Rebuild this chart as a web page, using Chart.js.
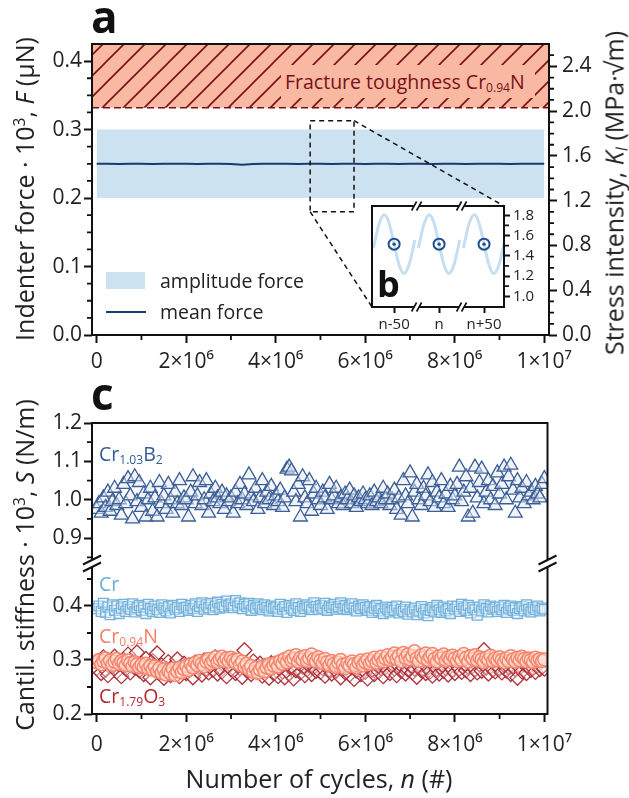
<!DOCTYPE html>
<html><head><meta charset="utf-8">
<script src="https://cdn.jsdelivr.net/npm/chart.js@4.4.1/dist/chart.umd.min.js"></script>
<style>
html,body{margin:0;padding:0;background:#fff;}
body{width:629px;height:798px;overflow:hidden;position:relative;font-family:'Open Sans','DejaVu Sans',sans-serif;}
canvas{position:absolute;left:0;top:0;}
.t{position:absolute;white-space:nowrap;line-height:1;color:#222;}
.c{transform:translate(-50%,-50%);}
.r{transform:translate(-50%,-50%) rotate(-90deg);}
sub{font-size:0.62em;vertical-align:-0.28em;line-height:0;}
sup{font-size:0.62em;vertical-align:0.55em;line-height:0;}
</style></head>
<body>
<canvas id="cA" width="629" height="798"></canvas>
<canvas id="cC1" width="629" height="798"></canvas>
<canvas id="cC2" width="629" height="798"></canvas>
<canvas id="cB" width="629" height="798"></canvas>

<div class="t" style="left:91px;top:-6px;font-size:44px;font-weight:700;color:#111">a</div>
<div class="t" style="left:91px;top:371px;font-size:44px;font-weight:700;color:#111">c</div>
<div class="t" style="left:377px;top:266px;font-size:36px;font-weight:700;color:#111">b</div>

<div style="position:absolute;left:281px;top:65px;width:254px;height:33px;background:#F8B8A2"></div>
<div class="t" style="left:285px;top:72px;font-size:19.5px;color:#7A1015">Fracture toughness Cr<sub>0.94</sub>N</div>

<div style="position:absolute;left:106px;top:272px;width:39px;height:17px;background:#CDE2F0"></div>
<div class="t" style="left:160px;top:271px;font-size:19.5px">amplitude force</div>
<div style="position:absolute;left:106px;top:311px;width:40px;height:2px;background:#1B3A6E"></div>
<div class="t" style="left:160px;top:302px;font-size:19.5px">mean force</div>

<div class="t r" style="left:24px;top:189px;font-size:25px">Indenter force · 10<sup>3</sup>, <i>F</i> (μN)</div>
<div class="t r" style="left:614px;top:193px;font-size:25px">Stress intensity, <i>K</i><sub><i>I</i></sub> (MPa·√m)</div>
<div class="t r" style="left:24px;top:565px;font-size:25px">Cantil. stiffness · 10<sup>3</sup>, <i>S</i> (N/m)</div>
<div class="t c" style="left:319px;top:778px;font-size:25px">Number of cycles, <i>n</i> (#)</div>

<div class="t" style="left:99px;top:444px;font-size:19.5px;color:#335C96">Cr<sub>1.03</sub>B<sub>2</sub></div>
<div class="t" style="left:99px;top:574px;font-size:19.5px;color:#6AAED6">Cr</div>
<div class="t" style="left:99px;top:626px;font-size:19.5px;color:#F47F67">Cr<sub>0.94</sub>N</div>
<div class="t" style="left:99px;top:686px;font-size:19.5px;color:#B5282F">Cr<sub>1.79</sub>O<sub>3</sub></div>

<script>
// ---------- data (cycles in units of 10^6) ----------
const nCycles = [
0,0.05,0.1,0.15,0.2,0.25,0.3,0.35,0.4,0.45,0.5,0.55,0.6,0.65,0.7,0.75,0.8,0.85,0.9,0.95,
1,1.05,1.1,1.15,1.2,1.25,1.3,1.35,1.4,1.45,1.5,1.55,1.6,1.65,1.7,1.75,1.8,1.85,1.9,1.95,
2,2.05,2.1,2.15,2.2,2.25,2.3,2.35,2.4,2.45,2.5,2.55,2.6,2.65,2.7,2.75,2.8,2.85,2.9,2.95,
3,3.05,3.1,3.15,3.2,3.25,3.3,3.35,3.4,3.45,3.5,3.55,3.6,3.65,3.7,3.75,3.8,3.85,3.9,3.95,
4,4.05,4.1,4.15,4.2,4.25,4.3,4.35,4.4,4.45,4.5,4.55,4.6,4.65,4.7,4.75,4.8,4.85,4.9,4.95,
5,5.05,5.1,5.15,5.2,5.25,5.3,5.35,5.4,5.45,5.5,5.55,5.6,5.65,5.7,5.75,5.8,5.85,5.9,5.95,
6,6.05,6.1,6.15,6.2,6.25,6.3,6.35,6.4,6.45,6.5,6.55,6.6,6.65,6.7,6.75,6.8,6.85,6.9,6.95,
7,7.05,7.1,7.15,7.2,7.25,7.3,7.35,7.4,7.45,7.5,7.55,7.6,7.65,7.7,7.75,7.8,7.85,7.9,7.95,
8,8.05,8.1,8.15,8.2,8.25,8.3,8.35,8.4,8.45,8.5,8.55,8.6,8.65,8.7,8.75,8.8,8.85,8.9,8.95,
9,9.05,9.1,9.15,9.2,9.25,9.3,9.35,9.4,9.45,9.5,9.55,9.6,9.65,9.7,9.75,9.8,9.85,9.9,9.95,
10];

const stiffCrB2 = [
0.975,0.99,0.965,1.005,0.98,1.02,0.97,0.995,1.03,0.985,1.0,0.96,1.04,0.99,1.055,1.01,0.95,1.06,0.995,1.045,
0.98,1.015,0.955,1.0,1.03,0.97,1.005,0.955,1.045,0.99,1.01,0.975,1.04,1.0,0.965,1.02,0.99,1.05,0.985,1.005,
1.0,0.955,1.02,1.06,0.99,1.01,1.045,0.985,1.0,1.05,0.965,1.015,0.995,1.03,1.005,0.99,1.02,0.975,1.01,0.995,
1.005,0.965,1.02,0.99,1.04,1.0,1.015,0.985,1.065,1.01,0.995,1.03,0.975,1.005,1.05,0.99,1.02,1.0,1.035,0.985,
1.01,0.995,1.025,0.98,1.005,1.08,1.085,1.075,1.02,0.995,1.04,0.955,1.06,1.005,0.99,1.05,0.97,1.015,1.03,1.0,
0.985,1.02,1.005,0.975,1.04,1.0,1.01,1.03,0.99,1.005,0.985,1.015,1.0,1.025,0.99,1.01,0.98,1.005,0.995,1.015,
1.0,0.99,1.01,0.985,1.02,0.995,1.005,0.99,1.03,1.0,1.015,0.985,1.0,1.025,0.975,1.005,0.96,1.05,1.01,0.99,
1.07,0.955,1.02,1.04,1.0,0.985,1.03,1.01,1.065,0.995,1.045,0.98,1.02,1.005,1.05,0.99,1.015,0.98,1.035,1.0,
1.01,1.04,1.085,0.995,1.02,1.06,0.955,1.03,0.965,1.085,1.005,1.045,1.08,0.99,1.02,1.05,1.0,1.035,0.985,1.07,
1.015,1.04,1.085,1.0,1.06,1.09,1.025,0.965,1.05,1.005,1.03,0.99,1.045,1.01,1.02,1.0,1.035,1.015,1.005,1.04,
1.055];

const stiffCr = [
0.395,0.4,0.39,0.405,0.388,0.398,0.384,0.402,0.392,0.4,0.386,0.396,0.403,0.39,0.399,0.394,0.404,0.389,0.397,0.401,
0.392,0.398,0.386,0.403,0.395,0.39,0.4,0.393,0.388,0.402,0.396,0.391,0.399,0.387,0.401,0.394,0.397,0.39,0.403,0.396,
0.398,0.392,0.401,0.395,0.404,0.39,0.399,0.406,0.394,0.402,0.397,0.405,0.393,0.4,0.407,0.396,0.403,0.398,0.409,0.401,
0.404,0.397,0.41,0.4,0.406,0.395,0.403,0.399,0.405,0.392,0.401,0.396,0.404,0.398,0.393,0.402,0.397,0.391,0.4,0.395,
0.398,0.39,0.403,0.394,0.399,0.388,0.401,0.396,0.392,0.404,0.397,0.39,0.4,0.395,0.402,0.398,0.393,0.406,0.399,0.394,
0.401,0.396,0.405,0.392,0.4,0.397,0.403,0.394,0.399,0.406,0.395,0.401,0.393,0.398,0.404,0.396,0.391,0.4,0.395,0.402,
0.397,0.392,0.399,0.388,0.396,0.401,0.391,0.395,0.386,0.398,0.393,0.389,0.397,0.392,0.4,0.387,0.394,0.39,0.398,0.385,
0.393,0.389,0.396,0.384,0.391,0.399,0.387,0.394,0.382,0.392,0.397,0.389,0.401,0.393,0.388,0.398,0.391,0.395,0.386,0.4,
0.394,0.399,0.39,0.403,0.396,0.392,0.401,0.387,0.397,0.393,0.383,0.398,0.391,0.402,0.395,0.389,0.4,0.394,0.397,0.39,
0.398,0.393,0.401,0.388,0.396,0.4,0.392,0.397,0.386,0.395,0.399,0.391,0.402,0.394,0.389,0.397,0.393,0.4,0.391,0.396,
0.394];

const stiffCrN = [
0.296,0.3,0.292,0.298,0.303,0.294,0.299,0.291,0.297,0.302,0.293,0.298,0.295,0.29,0.299,0.294,0.288,0.296,0.292,0.286,
0.291,0.287,0.293,0.284,0.289,0.282,0.288,0.279,0.285,0.276,0.283,0.273,0.28,0.275,0.284,0.272,0.279,0.286,0.277,0.283,
0.289,0.281,0.292,0.286,0.295,0.29,0.298,0.293,0.288,0.297,0.302,0.294,0.299,0.305,0.296,0.301,0.306,0.298,0.303,0.297,
0.304,0.299,0.295,0.301,0.291,0.297,0.287,0.293,0.283,0.289,0.278,0.285,0.276,0.282,0.288,0.279,0.286,0.292,0.284,0.29,
0.295,0.288,0.298,0.293,0.302,0.296,0.306,0.299,0.303,0.309,0.297,0.304,0.3,0.307,0.298,0.303,0.31,0.301,0.297,0.305,
0.299,0.294,0.302,0.296,0.29,0.298,0.293,0.287,0.295,0.3,0.291,0.285,0.294,0.289,0.297,0.292,0.286,0.295,0.299,0.29,
0.296,0.301,0.293,0.298,0.304,0.295,0.3,0.306,0.297,0.303,0.309,0.3,0.305,0.312,0.302,0.308,0.298,0.313,0.304,0.31,
0.301,0.307,0.316,0.303,0.298,0.309,0.304,0.312,0.3,0.306,0.311,0.302,0.297,0.307,0.303,0.31,0.299,0.305,0.301,0.308,
0.303,0.298,0.306,0.3,0.311,0.304,0.297,0.307,0.302,0.309,0.299,0.305,0.301,0.296,0.304,0.3,0.308,0.298,0.303,0.299,
0.305,0.3,0.296,0.303,0.298,0.307,0.301,0.297,0.304,0.299,0.306,0.302,0.297,0.303,0.3,0.296,0.304,0.299,0.302,0.298,
0.301];

const stiffCrO = [
0.285,0.298,0.276,0.305,0.282,0.272,0.295,0.288,0.306,0.279,0.292,0.27,0.3,0.284,0.31,0.277,0.296,0.286,0.314,0.281,
0.293,0.274,0.302,0.287,0.268,0.298,0.283,0.312,0.276,0.29,0.267,0.284,0.296,0.272,0.288,0.279,0.301,0.27,0.286,0.293,
0.276,0.29,0.283,0.268,0.295,0.28,0.288,0.273,0.299,0.284,0.277,0.291,0.282,0.305,0.275,0.287,0.279,0.296,0.27,0.289,
0.283,0.3,0.276,0.292,0.285,0.269,0.318,0.281,0.29,0.274,0.297,0.286,0.278,0.293,0.271,0.288,0.28,0.267,0.294,0.276,
0.289,0.27,0.285,0.279,0.268,0.292,0.275,0.286,0.266,0.281,0.295,0.277,0.288,0.272,0.283,0.29,0.274,0.287,0.28,0.296,
0.278,0.285,0.271,0.29,0.282,0.275,0.293,0.28,0.287,0.268,0.284,0.277,0.291,0.273,0.286,0.265,0.281,0.289,0.274,0.283,
0.278,0.266,0.288,0.282,0.274,0.291,0.279,0.285,0.27,0.287,0.281,0.276,0.293,0.284,0.272,0.289,0.28,0.286,0.275,0.283,
0.29,0.277,0.284,0.269,0.288,0.281,0.294,0.276,0.286,0.279,0.271,0.289,0.283,0.275,0.291,0.28,0.285,0.273,0.288,0.282,
0.276,0.29,0.284,0.278,0.293,0.281,0.287,0.274,0.289,0.283,0.277,0.292,0.28,0.318,0.286,0.275,0.288,0.282,0.279,0.29,
0.284,0.277,0.291,0.281,0.287,0.274,0.289,0.283,0.267,0.286,0.279,0.292,0.276,0.288,0.282,0.285,0.278,0.29,0.283,0.287,
0.284];

const meanX = [0,0.25,0.5,0.75,1,1.25,1.5,1.75,2,2.25,2.5,2.75,3,3.25,3.5,3.75,4,4.25,4.5,4.75,5,5.25,5.5,5.75,6,6.25,6.5,6.75,7,7.25,7.5,7.75,8,8.25,8.5,8.75,9,9.25,9.5,9.75,10];
const meanForce = [0.2500,0.2502,0.2499,0.2501,0.2500,0.2498,0.2501,0.2502,0.2500,0.2499,0.2501,0.2500,0.2497,0.2488,0.2499,0.2501,0.2500,0.2502,0.2499,0.2500,0.2501,0.2499,0.2502,0.2500,0.2498,0.2501,0.2500,0.2499,0.2502,0.2500,0.2499,0.2501,0.2500,0.2498,0.2501,0.2500,0.2502,0.2499,0.2500,0.2501,0.2500];
const ampX = [0, 10];
const ampHigh = [0.3, 0.3];
const ampLow = [0.2, 0.2];
const fractureLevel = 0.332;
const zoomBox = {n0: 4.77, n1: 5.75, f0: 0.18, f1: 0.313};

// inset b (cycle offsets around n, stress intensity)
const waveN = [-73,-70,-66,-61,-56,-50,-44,-39,-34,-30,-27,-25,-23,-20,-16,-11,-6,0,6,11,16,20,23,25,27,30,34,39,44,50,56,61,66,70,73];
const waveK = [1.474,1.597,1.734,1.805,1.734,1.515,1.296,1.225,1.296,1.433,1.556,null,1.474,1.597,1.734,1.805,1.734,1.515,1.296,1.225,1.296,1.433,1.556,null,1.474,1.597,1.734,1.805,1.734,1.515,1.296,1.225,1.296,1.433,1.556];
const markN = [-50, 0, 50];
const markK = [1.515, 1.515, 1.515];

// ticks
const xTicks = [0,2,4,6,8,10];
const xTickLabels = ['0','2×10⁶','4×10⁶','6×10⁶','8×10⁶','1×10⁷'];
const xMinor = [1,3,5,7,9];
const forceTicks = [0,0.1,0.2,0.3,0.4];
const forceTickLabels = ['0.0','0.1','0.2','0.3','0.4'];
const forceMinor = [0.025,0.05,0.075,0.125,0.15,0.175,0.225,0.25,0.275,0.325,0.35,0.375];
const kTicks = [0,0.4,0.8,1.2,1.6,2.0,2.4];
const kTickLabels = ['0.0','0.4','0.8','1.2','1.6','2.0','2.4'];
const kMinor = [0.1,0.2,0.3,0.5,0.6,0.7,0.9,1.0,1.1,1.3,1.4,1.5,1.7,1.8,1.9,2.1,2.2,2.3,2.5];
const stiffHiTicks = [0.9,1.0,1.1,1.2];
const stiffHiLabels = ['0.9','1.0','1.1','1.2'];
const stiffHiMinor = [0.85,0.95,1.05,1.15];
const stiffLoTicks = [0.2,0.3,0.4];
const stiffLoLabels = ['0.2','0.3','0.4'];
const stiffLoMinor = [0.25,0.35,0.45];
const insetKTicks = [1.0,1.2,1.4,1.6,1.8];
const insetKLabels = ['1.0','1.2','1.4','1.6','1.8'];
const insetKMinor = [1.1,1.3,1.5,1.7];
const insetNTicks = [-50,0,50];
const insetNLabels = ['n-50','n','n+50'];

// ---------- helpers ----------
Chart.defaults.font.family = "'Open Sans','DejaVu Sans',sans-serif";
Chart.defaults.color = '#222';

const X_MIN = -0.105, X_MAX_TOP = 10.107, X_MAX_BOT = 10.07;

function axis(o) {
  const horiz = o.position === 'bottom' || o.position === 'top';
  return {
    type: 'linear', position: o.position, min: o.min, max: o.max,
    display: o.display === undefined ? true : o.display,
    afterBuildTicks: s => { s.ticks = (o.values || []).map(v => ({value: v})); },
    afterFit: s => { if (horiz) s.height = o.fit; else s.width = o.fit; },
    ticks: {
      callback: (v, i) => (o.labels || [])[i],
      autoSkip: false, maxRotation: 0, minRotation: 0, includeBounds: false,
      font: {size: o.fontSize || 21}, color: '#222', padding: o.pad === undefined ? 2 : o.pad
    },
    grid: {drawOnChartArea: false, drawTicks: true, tickLength: o.tickLen || 8, tickWidth: 2, tickColor: '#111'},
    border: {display: false}
  };
}

function makeFrame(cfg) {
  return {
    id: 'frame',
    afterDraw(chart) {
      const ctx = chart.ctx, a = chart.chartArea, s = cfg.sides;
      ctx.save();
      ctx.strokeStyle = '#111'; ctx.lineWidth = 2; ctx.setLineDash([]);
      ctx.beginPath();
      const t = s.includes('t') ? 1 : 0, b = s.includes('b') ? 1 : 0;
      if (s.includes('l')) { ctx.moveTo(a.left, a.top - t); ctx.lineTo(a.left, a.bottom + b); }
      if (s.includes('r')) { ctx.moveTo(a.right, a.top - t); ctx.lineTo(a.right, a.bottom + b); }
      if (s.includes('t')) { ctx.moveTo(a.left - 1, a.top); ctx.lineTo(a.right + 1, a.top); }
      if (s.includes('b')) { ctx.moveTo(a.left - 1, a.bottom); ctx.lineTo(a.right + 1, a.bottom); }
      ctx.stroke();
      ctx.lineWidth = 1.8; ctx.beginPath();
      (cfg.minor || []).forEach(m => {
        const sc = chart.scales[m.axis];
        m.values.forEach(v => {
          const p = sc.getPixelForValue(v);
          if (m.side === 'left') { ctx.moveTo(a.left, p); ctx.lineTo(a.left - m.len, p); }
          if (m.side === 'right') { ctx.moveTo(a.right, p); ctx.lineTo(a.right + m.len, p); }
          if (m.side === 'bottom') { ctx.moveTo(p, a.bottom); ctx.lineTo(p, a.bottom + m.len); }
        });
      });
      ctx.stroke();
      if (cfg.extra) cfg.extra(chart, ctx, a);
      ctx.restore();
    }
  };
}

function makeHatch() {
  const n = 21;
  const c = document.createElement('canvas'); c.width = n; c.height = n;
  const g = c.getContext('2d');
  g.fillStyle = '#F8B8A2'; g.fillRect(0, 0, n, n);
  g.strokeStyle = '#7A1015'; g.lineWidth = 1.6;
  g.beginPath();
  g.moveTo(-3, n + 3); g.lineTo(n + 3, -3);
  g.moveTo(-3, 3); g.lineTo(3, -3);
  g.moveTo(n - 3, n + 3); g.lineTo(n + 3, n - 3);
  g.stroke();
  return g.createPattern(c, 'repeat');
}

const pts = (xs, ys) => xs.map((x, i) => ({x: x, y: ys[i]}));
const base = {responsive: false, animation: false, devicePixelRatio: 1,
  plugins: {legend: {display: false}, tooltip: {enabled: false}}};

// ---------- chart a ----------
const chartA = new Chart(document.getElementById('cA'), {
  type: 'line',
  data: {datasets: [
    {label: 'mean force', data: pts(meanX, meanForce), borderColor: '#1B3A6E', borderWidth: 2, pointRadius: 0, fill: false, tension: 0},
    {label: 'amplitude force', data: pts(ampX, ampHigh), borderColor: 'rgba(0,0,0,0)', borderWidth: 1, pointRadius: 0, backgroundColor: '#CDE2F0', fill: '+1'},
    {label: 'amplitude low', data: pts(ampX, ampLow), borderColor: 'rgba(0,0,0,0)', borderWidth: 1, pointRadius: 0, fill: false},
    {label: 'Fracture toughness Cr0.94N', data: [{x: X_MIN, y: fractureLevel}, {x: X_MAX_TOP, y: fractureLevel}],
     borderColor: '#7A1015', borderWidth: 1.6, borderDash: [7, 4], pointRadius: 0, backgroundColor: makeHatch(), fill: 'end'}
  ]},
  options: Object.assign({}, base, {
    layout: {padding: {left: 42, right: 30, top: 44, bottom: 423}},
    scales: {
      x: axis({position: 'bottom', min: X_MIN, max: X_MAX_TOP, values: xTicks, labels: xTickLabels, fit: 40, pad: 6}),
      y: axis({position: 'left', min: 0, max: 0.425, values: forceTicks, labels: forceTickLabels, fit: 50, pad: 2}),
      y2: axis({position: 'right', min: 0, max: 2.6, values: kTicks, labels: kTickLabels, fit: 50, pad: 5})
    }
  }),
  plugins: [makeFrame({sides: 'lrtb', minor: [
    {axis: 'y', side: 'left', len: 5, values: forceMinor},
    {axis: 'y2', side: 'right', len: 5, values: kMinor},
    {axis: 'x', side: 'bottom', len: 5, values: xMinor}]})]
});

// ---------- chart c (upper part, broken axis) ----------
const chartC1 = new Chart(document.getElementById('cC1'), {
  type: 'line',
  data: {datasets: [
    {label: 'Cr1.03B2', data: pts(nCycles, stiffCrB2), showLine: false, pointStyle: 'triangle', pointRadius: 8,
     borderColor: '#3B5E96', backgroundColor: 'rgba(226,233,243,0.5)', pointBorderWidth: 1.3}
  ]},
  options: Object.assign({}, base, {
    layout: {padding: {left: 42, right: 81.5, top: 423, bottom: 238}},
    scales: {
      x: axis({position: 'bottom', min: X_MIN, max: X_MAX_BOT, display: false, fit: 0}),
      y: axis({position: 'left', min: 0.843, max: 1.2, values: stiffHiTicks, labels: stiffHiLabels, fit: 50, pad: 2})
    }
  }),
  plugins: [makeFrame({sides: 'ltr', minor: [{axis: 'y', side: 'left', len: 5, values: stiffHiMinor}]})]
});

// ---------- chart c (lower part) ----------
const chartC2 = new Chart(document.getElementById('cC2'), {
  type: 'line',
  data: {datasets: [
    {label: 'Cr0.94N', data: pts(nCycles, stiffCrN), showLine: false, pointStyle: 'circle', pointRadius: 6.5,
     borderColor: '#F5846B', backgroundColor: 'rgba(253,226,217,0.6)', pointBorderWidth: 1.5},
    {label: 'Cr', data: pts(nCycles, stiffCr), showLine: false, pointStyle: 'rect', pointRadius: 7,
     borderColor: '#72B2DB', backgroundColor: 'rgba(232,242,250,0.45)', pointBorderWidth: 1.3},
    {label: 'Cr1.79O3', data: pts(nCycles, stiffCrO), showLine: false, pointStyle: 'rectRot', pointRadius: 7.5,
     borderColor: '#B0323A', backgroundColor: 'rgba(255,255,255,0.35)', pointBorderWidth: 1.3}
  ]},
  options: Object.assign({}, base, {
    layout: {padding: {left: 42, right: 81.5, top: 567, bottom: 44}},
    scales: {
      x: axis({position: 'bottom', min: X_MIN, max: X_MAX_BOT, values: xTicks, labels: xTickLabels, fit: 40, pad: 10}),
      y: axis({position: 'left', min: 0.2, max: 0.4722, values: stiffLoTicks, labels: stiffLoLabels, fit: 50, pad: 2})
    }
  }),
  plugins: [makeFrame({sides: 'lbr', minor: [
    {axis: 'y', side: 'left', len: 5, values: stiffLoMinor},
    {axis: 'x', side: 'bottom', len: 5, values: xMinor}],
    extra: (chart, ctx, a) => {
      ctx.lineWidth = 2; ctx.strokeStyle = '#111'; ctx.beginPath();
      [a.left, a.right].forEach(x => {
        [a.top - 7, a.top].forEach(y => { ctx.moveTo(x - 9, y + 4.5); ctx.lineTo(x + 9, y - 4.5); });
      });
      ctx.stroke();
    }})]
});

// ---------- inset b ----------
const chartB = new Chart(document.getElementById('cB'), {
  type: 'line',
  data: {datasets: [
    {label: 'n dot', data: pts(markN, markK), showLine: false, pointStyle: 'circle', pointRadius: 1.7,
     backgroundColor: '#1F4E8C', borderColor: '#1F4E8C', pointBorderWidth: 0},
    {label: 'n marker', data: pts(markN, markK), showLine: false, pointStyle: 'circle', pointRadius: 5.5,
     backgroundColor: 'rgba(255,255,255,0)', borderColor: '#1F4E8C', pointBorderWidth: 2},
    {label: 'load wave', data: pts(waveN, waveK), borderColor: '#C6DFF0', borderWidth: 3, pointRadius: 0,
     tension: 0.4, spanGaps: false, fill: false}
  ]},
  options: Object.assign({}, base, {
    layout: {padding: {left: 372, right: 85, top: 206, bottom: 461}},
    scales: {
      x: axis({position: 'bottom', min: -74.6, max: 72.2, values: insetNTicks, labels: insetNLabels, fit: 30, pad: 3, tickLen: 6, fontSize: 15}),
      y: axis({position: 'right', min: 0.894, max: 1.892, values: insetKTicks, labels: insetKLabels, fit: 40, pad: 3, tickLen: 6, fontSize: 15})
    }
  }),
  plugins: [
    {id: 'insetBg', beforeDraw(chart) {
      const ctx = chart.ctx, a = chart.chartArea;
      const xs = chartA.scales.x, ys = chartA.scales.y;
      const bx0 = xs.getPixelForValue(zoomBox.n0), bx1 = xs.getPixelForValue(zoomBox.n1);
      const by0 = ys.getPixelForValue(zoomBox.f0), by1 = ys.getPixelForValue(zoomBox.f1);
      ctx.save();
      ctx.strokeStyle = '#111'; ctx.lineWidth = 1.5; ctx.setLineDash([5, 4]);
      ctx.strokeRect(bx0, by1, bx1 - bx0, by0 - by1);
      ctx.beginPath();
      ctx.moveTo(bx0, by0); ctx.lineTo(a.left, a.bottom);
      ctx.moveTo(bx1, by1); ctx.lineTo(a.right, a.top);
      ctx.stroke();
      ctx.setLineDash([]);
      ctx.fillStyle = '#fff'; ctx.fillRect(a.left, a.top, a.right - a.left, a.bottom - a.top);
      ctx.restore();
    }},
    makeFrame({sides: 'lrtb', minor: [{axis: 'y', side: 'right', len: 5, values: insetKMinor}],
      extra: (chart, ctx, a) => {
        const xs = chart.scales.x;
        [-25, 25].forEach(v => {
          const p = xs.getPixelForValue(v);
          [a.top, a.bottom].forEach(y => {
            ctx.fillStyle = '#fff'; ctx.fillRect(p - 2.5, y - 2, 5, 4);
            ctx.strokeStyle = '#111'; ctx.lineWidth = 1.6; ctx.beginPath();
            [p - 2.5, p + 2.5].forEach(q => { ctx.moveTo(q - 2.5, y + 4.5); ctx.lineTo(q + 2.5, y - 4.5); });
            ctx.stroke();
          });
        });
      }})
  ]
});
</script>
</body></html>
